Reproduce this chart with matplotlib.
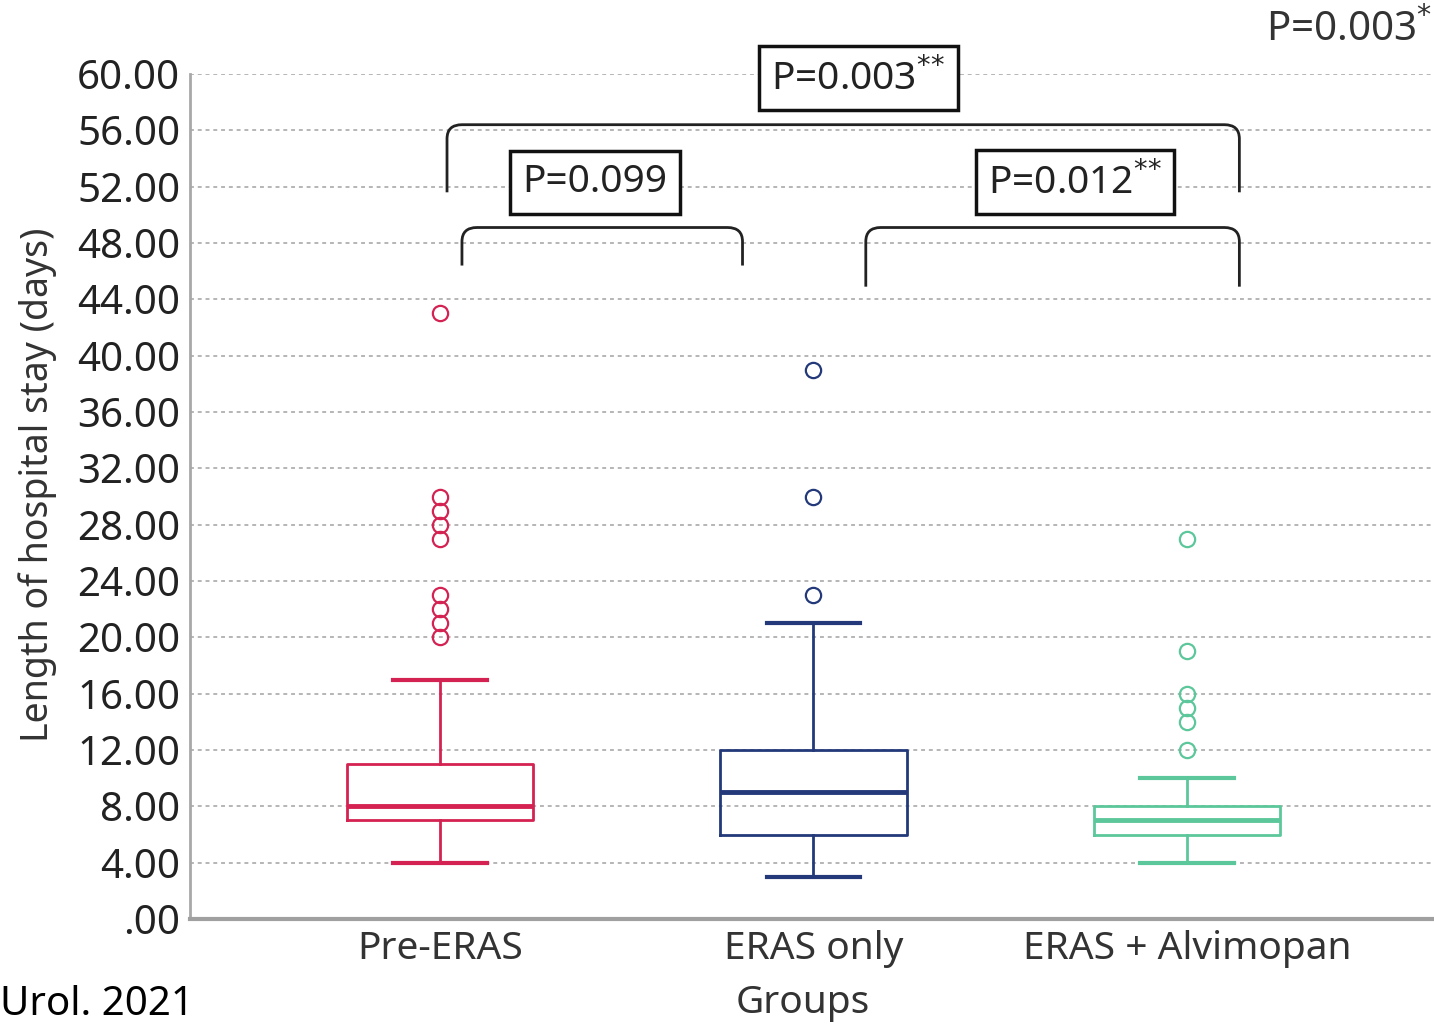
import matplotlib
matplotlib.use("Agg")
import matplotlib.pyplot as plt
from matplotlib.path import Path
from matplotlib.patches import PathPatch
from matplotlib.ticker import FuncFormatter, MultipleLocator

plt.rcParams['font.family'] = ['Noto Sans', 'DejaVu Sans']

# ---- data ----
groups = ["Pre-ERAS", "ERAS only", "ERAS + Alvimopan"]
medians = [8, 9, 7]
q1 = [7, 6, 6]
q3 = [11, 12, 8]
whisk_lo = [4, 3, 4]
whisk_hi = [17, 21, 10]
outliers = [
    [20, 21, 22, 23, 27, 28, 29, 30, 43],
    [23, 30, 39],
    [12, 14, 15, 16, 19, 27],
]
colors = ["#d42252", "#23397a", "#5cc79a"]

pair_labels = ["P=0.099", "P=0.012$^{{*}{*}}$", "P=0.003$^{{*}{*}}$"]
overall_label = "P=0.003$^{*}$"

fig = plt.figure(figsize=(14.34, 10.28), dpi=100)
ax = fig.add_axes([190/1434, 1-919/1028, 1-190/1434, (919-74)/1028])

stats = []
for i in range(3):
    stats.append(dict(med=medians[i], q1=q1[i], q3=q3[i], whislo=whisk_lo[i],
                      whishi=whisk_hi[i], fliers=outliers[i], label=groups[i]))

for i, st in enumerate(stats):
    c = colors[i]
    ax.bxp([st], positions=[i], widths=0.50, capwidths=[0.25], showfliers=True,
           boxprops=dict(color=c, linewidth=2),
           whiskerprops=dict(color=c, linewidth=2),
           capprops=dict(color=c, linewidth=3),
           medianprops=dict(color=c, linewidth=3.5),
           flierprops=dict(marker='o', markerfacecolor='none', markeredgecolor=c,
                           markersize=11, markeredgewidth=1.6))

ax.set_xlim(-0.669, 2.661)
ax.set_ylim(0, 60)
ax.yaxis.set_major_locator(MultipleLocator(4))
ax.yaxis.set_major_formatter(FuncFormatter(lambda v, p: ".00" if v == 0 else f"{v:.2f}"))
ax.set_xticks(range(3))
ax.set_xticklabels(groups)
ax.tick_params(axis='x', length=0, labelsize=28, colors='#333333', pad=8)
ax.tick_params(axis='y', length=0, labelsize=29, colors='#222222', pad=7)

ax.grid(axis='y', color='#b5b5b5', linestyle=(0, (2, 2)), linewidth=1.4)
ax.set_axisbelow(True)
for s in ['top', 'right']:
    ax.spines[s].set_visible(False)
ax.spines['left'].set_color('#a8a8a8')
ax.spines['left'].set_linewidth(2)
ax.spines['bottom'].set_color('#a0a0a0')
ax.spines['bottom'].set_linewidth(3)

ax.set_ylabel("Length of hospital stay (days)", fontsize=27, color='#333333',
              va='center')
ax.yaxis.set_label_coords((38-190)/1244, (919-485)/845)
ax.set_xlabel("Groups", fontsize=28, color='#333333', va='center')
ax.xaxis.set_label_coords((803-190)/1244, (919-1003)/845)


def bracket(x1, x2, ytop, ybot1, ybot2, rx=0.04, ry=1.0):
    verts = [(x1, ybot1), (x1, ytop - ry), (x1, ytop), (x1 + rx, ytop),
             (x2 - rx, ytop), (x2, ytop), (x2, ytop - ry), (x2, ybot2)]
    codes = [Path.MOVETO, Path.LINETO, Path.CURVE3, Path.CURVE3,
             Path.LINETO, Path.CURVE3, Path.CURVE3, Path.LINETO]
    p = PathPatch(Path(verts, codes), facecolor='none', edgecolor='#222222',
                  linewidth=2, clip_on=False)
    ax.add_patch(p)


bracket(0.059, 0.81, 49.1, 46.4, 46.4)
bracket(1.14, 2.14, 49.1, 44.9, 44.9)
bracket(0.019, 2.14, 56.4, 51.6, 51.6)

boxkw = dict(boxstyle='square,pad=0.32', facecolor='white', edgecolor='#111111', linewidth=2.5)
ax.text(0.415, 52.3, pair_labels[0], ha='center', va='center', fontsize=28,
        color='#222222', bbox=boxkw, clip_on=False)
ax.text(1.70, 52.3, pair_labels[1], ha='center', va='center', fontsize=28,
        color='#222222', bbox=boxkw, clip_on=False)
ax.text(1.12, 59.7, pair_labels[2], ha='center', va='center', fontsize=28,
        color='#222222', bbox=boxkw, clip_on=False, zorder=5)

fig.text(1432/1434, 1-30/1028, overall_label, ha='right', va='center', fontsize=29, color='#333333')
fig.text(0.0, 1-1005/1028, "Urol. 2021", ha='left', va='center', fontsize=29, color='black')

fig.savefig("out.png", dpi=100)
